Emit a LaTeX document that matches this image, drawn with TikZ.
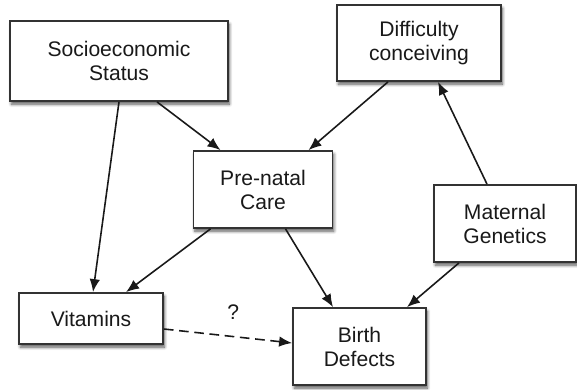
\documentclass[tikz,border=0pt]{standalone}
\usepackage{fontspec}
\setsansfont{Liberation Sans}
\usetikzlibrary{arrows.meta,shadows.blur}

\begin{document}
\begin{tikzpicture}[x=1cm,y=1cm]
\tikzset{
  factor/.style={rectangle,draw=black!80,line width=1pt,fill=white,
    inner sep=0pt,align=center,text=black!90,
    font=\sffamily\fontsize{12}{13.7}\selectfont,
    blur shadow={shadow xshift=0.8pt,shadow yshift=-1.8pt,shadow blur steps=6,shadow opacity=65}},
  causes/.style={-{Latex[length=2.6mm,width=2.1mm]},line width=0.9pt,black!90},
  unknown/.style={causes,dashed,dash pattern=on 5.5pt off 3.2pt}
}
\useasboundingbox (0,0) rectangle (11.54,7.78);
\node[factor,minimum width=4.36cm,minimum height=1.60cm] (n_ses) at (2.38,6.56) {Socioeconomic\\Status};
\node[factor,minimum width=3.28cm,minimum height=1.52cm] (n_diff) at (8.38,6.92) {Difficulty\\conceiving};
\node[factor,minimum width=2.78cm,minimum height=1.54cm] (n_care) at (5.26,3.99) {Pre-natal\\Care};
\node[factor,minimum width=2.84cm,minimum height=1.54cm] (n_gen) at (10.10,3.31) {Maternal\\Genetics};
\node[factor,minimum width=2.88cm,minimum height=1.02cm] (n_vit) at (1.82,1.41) {Vitamins};
\node[factor,minimum width=2.66cm,minimum height=1.54cm] (n_bd) at (7.19,0.85) {Birth\\Defects};
\draw[causes] (n_ses.south) -- ([xshift=0.04cm]n_vit.north);
\draw[causes] ([xshift=0.76cm]n_ses.south) -- ([xshift=-0.85cm]n_care.north);
\draw[causes] ([xshift=-0.62cm]n_diff.south) -- ([xshift=0.91cm]n_care.north);
\draw[causes] ([xshift=-0.36cm]n_gen.north) -- ([xshift=0.38cm]n_diff.south);
\draw[causes] ([xshift=-1.05cm]n_care.south) -- ([xshift=0.70cm]n_vit.north);
\draw[causes] ([xshift=0.45cm]n_care.south) -- ([xshift=-0.53cm]n_bd.north);
\draw[causes] ([xshift=-0.92cm]n_gen.south) -- ([xshift=0.95cm]n_bd.north);
\draw[unknown] ([yshift=-0.21cm]n_vit.east) -- node[pos=0.54,above=0.2cm,font=\sffamily\fontsize{12}{13.7}\selectfont,text=black!90] {?} ([yshift=0.07cm]n_bd.west);
\end{tikzpicture}
\end{document}
